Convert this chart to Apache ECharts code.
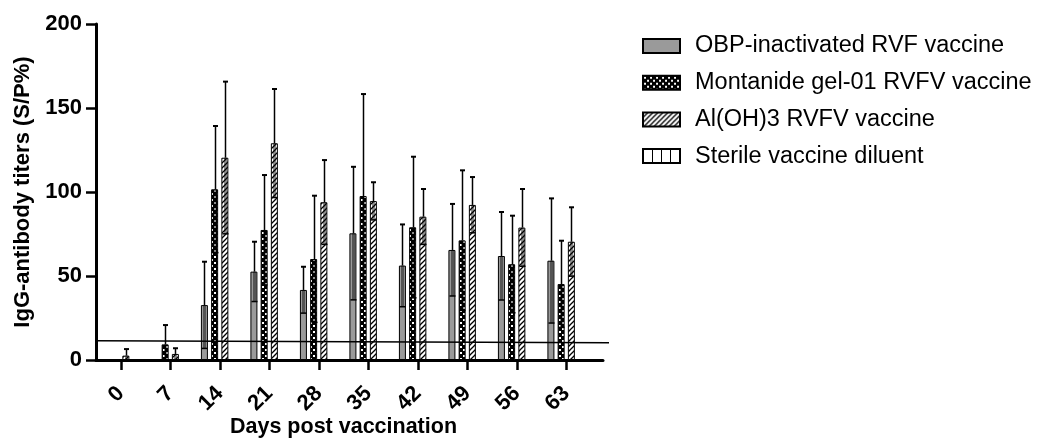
<!DOCTYPE html>
<html lang="en">
<head>
    <meta charset="UTF-8">
    <title>IgG antibody titers</title>
    <script src="https://cdn.jsdelivr.net/npm/echarts@6/dist/echarts.min.js"></script>
    <style>
        html, body { margin: 0; padding: 0; background: #fff; }
        #main { width: 1039px; height: 442px; }
    </style>
</head>
<body>
<div id="main"></div>
<script>
    // days post vaccination
    let days = ['0', '7', '14', '21', '28', '35', '42', '49', '56', '63'];
    let seriesNames = ['OBP-inactivated RVF vaccine', 'Montanide gel-01 RVFV vaccine', 'Al(OH)3 RVFV vaccine', 'Sterile vaccine diluent'];

    // means and SD (S/P%)
    let obpMean = [0, 0, 32.7, 52.6, 41.7, 75.4, 56.2, 65.5, 61.9, 59.1];
    let obpSd = [0, 0, 25.8, 17.8, 13.8, 39.6, 24.5, 27.4, 26.2, 37.1];
    let montMean = [0, 9.3, 101.6, 77.4, 60.1, 97.6, 79, 71.2, 57, 45.2];
    let montSd = [0, 11.5, 37.7, 32.7, 37.7, 60.7, 42, 41.7, 28.9, 25.8];
    let alMean = [2.6, 3.6, 120.4, 129, 93.9, 94.6, 85.3, 92.3, 78.8, 70.4];
    let alSd = [3.9, 3.4, 45.3, 32.3, 25.1, 11.2, 16.5, 16.6, 23, 20.5];
    let dilMean = [0, 0, 0, 0, 0, 0, 0, 0, 0, 0];
    let dilSd = [0, 0, 0, 0, 0, 0, 0, 0, 0, 0];

    // cut-off line (start, end)
    let cutoff = [11.5, 10.3];

    let yTicks = [0, 200, 50];

    let font = 'Liberation Sans, Arial, Helvetica, sans-serif';
    let barW = 7;
    let barGap = 0.46;

    function pattern(w, h, draw) {
        let c = document.createElement('canvas');
        c.width = w;
        c.height = h;
        let ctx = c.getContext('2d');
        draw(ctx);
        return {image: c, repeat: 'repeat'};
    }

    let checker = pattern(6, 6, function (ctx) {
        ctx.fillStyle = '#000';
        ctx.fillRect(0, 0, 6, 6);
        ctx.fillStyle = '#fff';
        ctx.fillRect(1, 1, 2, 2);
        ctx.fillRect(4, 4, 2, 2);
    });
    let hatch = pattern(5, 5, function (ctx) {
        ctx.fillStyle = '#fff';
        ctx.fillRect(0, 0, 5, 5);
        ctx.strokeStyle = '#000';
        ctx.lineWidth = 1.3;
        ctx.beginPath();
        ctx.moveTo(-1, 6); ctx.lineTo(6, -1);
        ctx.moveTo(-1, 1); ctx.lineTo(1, -1);
        ctx.moveTo(4, 6); ctx.lineTo(6, 4);
        ctx.stroke();
    });
    let vlines = pattern(9, 4, function (ctx) {
        ctx.fillStyle = '#fff';
        ctx.fillRect(0, 0, 9, 4);
        ctx.fillStyle = '#000';
        ctx.fillRect(0, 0, 1, 4);
    });

    let fills = ['#9a9a9a', checker, hatch, vlines];
    let means = [obpMean, montMean, alMean, dilMean];
    let sds = [obpSd, montSd, alSd, dilSd];

    let errData = [];
    means.forEach(function (arr, s) {
        arr.forEach(function (m, i) {
            if (sds[s][i] > 0) errData.push([i, s, m, sds[s][i]]);
        });
    });

    function renderErr(params, api) {
        let i = api.value(0), s = api.value(1), m = api.value(2), sd = api.value(3);
        let pitch = barW * (1 + barGap);
        let p = api.coord([i, m]);
        let x = Math.round(p[0] + (s - 1.5) * pitch) + 0.5;
        let top = api.coord([i, m + sd])[1];
        let low = api.coord([i, Math.max(m - sd, 0)])[1];
        let black = {stroke: '#000', lineWidth: 1.5};
        return {
            type: 'group',
            children: [
                {type: 'rect', shape: {x: x - 1.5, y: p[1], width: 3, height: low - p[1]}, style: {fill: 'rgba(0,0,0,0.45)'}},
                {type: 'line', shape: {x1: x - 3, y1: low, x2: x + 3, y2: low}, style: black},
                {type: 'line', shape: {x1: x, y1: p[1], x2: x, y2: top}, style: black},
                {type: 'line', shape: {x1: x - 2.5, y1: top, x2: x + 2.5, y2: top}, style: {stroke: '#000', lineWidth: 2}}
            ]
        };
    }

    let series = seriesNames.map(function (name, s) {
        return {
            name: name,
            type: 'bar',
            xAxisIndex: 0,
            yAxisIndex: 0,
            barWidth: barW,
            barGap: (barGap * 100) + '%',
            data: means[s],
            itemStyle: {color: fills[s], borderColor: '#000', borderWidth: 1},
            z: 2
        };
    });
    series.push({
        type: 'custom',
        xAxisIndex: 0,
        yAxisIndex: 0,
        renderItem: renderErr,
        data: errData,
        encode: {x: 0, y: 2},
        z: 4,
        silent: true
    });
    series.push({
        type: 'line',
        xAxisIndex: 2,
        yAxisIndex: 2,
        data: [[0, cutoff[0]], [1, cutoff[1]]],
        symbol: 'none',
        lineStyle: {color: '#000', width: 1.5},
        z: 5,
        silent: true
    });

    let chart = echarts.init(document.getElementById('main'), null, {renderer: 'canvas'});
    chart.setOption({
        animation: false,
        backgroundColor: '#fff',
        textStyle: {fontFamily: font},
        legend: {
            orient: 'vertical',
            left: 637,
            top: 28,
            icon: 'rect',
            itemWidth: 37,
            itemHeight: 14,
            itemGap: 10.7,
            data: seriesNames,
            textStyle: {fontFamily: font, fontSize: 23.5, color: '#000', lineHeight: 26, padding: [0, 0, 0, 10]}
        },
        grid: [
            {left: 96, top: 24, width: 495, height: 336, outerBoundsMode: 'none'},
            {left: 96, top: 24, width: 507, height: 336, outerBoundsMode: 'none'},
            {left: 97, top: 24, width: 512, height: 336, outerBoundsMode: 'none'}
        ],
        xAxis: [
            {
                gridIndex: 0,
                type: 'category',
                data: days,
                axisLine: {show: false},
                axisTick: {show: true, alignWithLabel: true, length: 10, lineStyle: {color: '#000', width: 2.5}},
                axisLabel: {rotate: 45, margin: 30, color: '#000', fontWeight: 'bold', fontSize: 22, fontFamily: font},
                name: 'Days post vaccination',
                nameLocation: 'middle',
                nameGap: 56,
                nameMoveOverlap: false,
                nameTextStyle: {color: '#000', fontWeight: 'bold', fontSize: 21.5, fontFamily: font}
            },
            {
                gridIndex: 1,
                type: 'value',
                min: 0,
                max: 1,
                axisLine: {show: true, lineStyle: {color: '#000', width: 3}},
                axisTick: {show: false},
                axisLabel: {show: false},
                splitLine: {show: false}
            },
            {gridIndex: 2, type: 'value', min: 0, max: 1, show: false}
        ],
        yAxis: [
            {
                gridIndex: 0,
                type: 'value',
                min: yTicks[0],
                max: yTicks[1],
                interval: yTicks[2],
                axisLine: {show: true, lineStyle: {color: '#000', width: 3}},
                axisTick: {show: true, length: 10, lineStyle: {color: '#000', width: 2.5}},
                axisLabel: {margin: 14, color: '#000', fontWeight: 'bold', fontSize: 22, fontFamily: font},
                splitLine: {show: false},
                name: 'IgG-antibody titers (S/P%)',
                nameLocation: 'middle',
                nameGap: 62,
                nameTextStyle: {color: '#000', fontWeight: 'bold', fontSize: 22, fontFamily: font}
            },
            {gridIndex: 1, type: 'value', min: yTicks[0], max: yTicks[1], show: false},
            {gridIndex: 2, type: 'value', min: yTicks[0], max: yTicks[1], show: false}
        ],
        series: series
    });
</script>
</body>
</html>
